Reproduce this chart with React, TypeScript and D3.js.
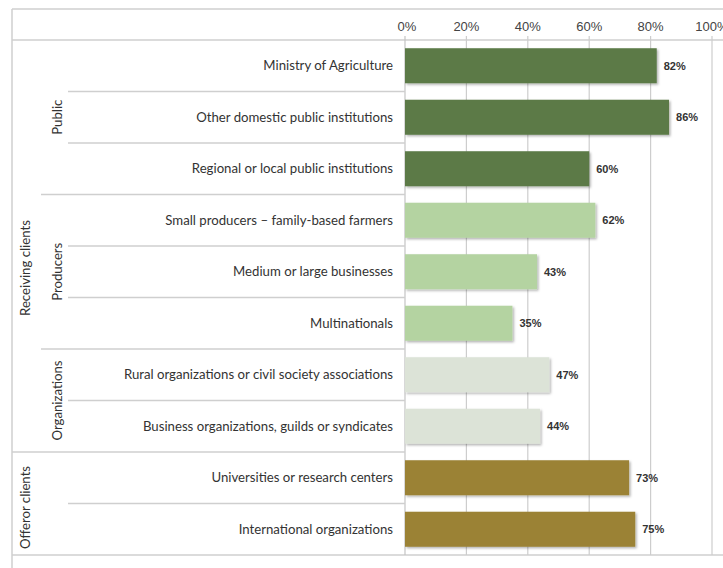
import React from "react";
import * as d3 from "d3";

const categories = [
  "Ministry of Agriculture",
  "Other domestic public institutions",
  "Regional or local public institutions",
  "Small producers – family-based farmers",
  "Medium or large businesses",
  "Multinationals",
  "Rural organizations or civil society associations",
  "Business organizations, guilds or syndicates",
  "Universities or research centers",
  "International organizations",
];
const values = [82, 86, 60, 62, 43, 35, 47, 44, 73, 75];
const subgroupOf = [
  "Public", "Public", "Public",
  "Producers", "Producers", "Producers",
  "Organizations", "Organizations",
  "Offeror", "Offeror",
];
const subgroups = ["Public", "Producers", "Organizations", "Offeror"];
const subgroupLabels = ["Public", "Producers", "Organizations", ""];
const topGroups = ["Receiving clients", "Offeror clients"];
const topGroupOf = [
  "Receiving clients", "Receiving clients", "Receiving clients",
  "Receiving clients", "Receiving clients", "Receiving clients",
  "Receiving clients", "Receiving clients",
  "Offeror clients", "Offeror clients",
];
const tickValues = [0, 20, 40, 60, 80, 100];

const W = 723;
const H = 568;
const boxLeft = 12;
const boxTop = 9;
const headerY = 40;
const bottomY = 555;
const plotLeft = 405;
const plotRight = 712;
const labelRight = 393;
const topLabelX = 25;
const subLabelX = 57;
const subLineX = 41;
const rowLineX = 68;

const colorScale = d3
  .scaleOrdinal<string, string>()
  .domain(subgroups)
  .range(["#5b7a47", "#b4d3a1", "#dce3d7", "#9b8236"]);

export default function App() {
  const x = d3.scaleLinear().domain([0, 100]).range([plotLeft, plotRight]);
  const yRow = d3
    .scaleBand<string>()
    .domain(categories)
    .range([headerY, bottomY])
    .paddingInner(0);
  const y = d3
    .scaleBand<string>()
    .domain(categories)
    .range([headerY, bottomY])
    .paddingInner(0.32)
    .paddingOuter(0.16);
  const step = yRow.step();

  const seps: { y: number; x0: number }[] = [];
  for (let i = 1; i < categories.length; i++) {
    const yy = yRow(categories[i])!;
    let x0 = rowLineX;
    if (topGroupOf[i] !== topGroupOf[i - 1]) x0 = boxLeft;
    else if (subgroupOf[i] !== subgroupOf[i - 1]) x0 = subLineX;
    seps.push({ y: yy, x0 });
  }

  const groupSpan = (keys: string[], k: string) => {
    const idx = keys.map((g, i) => (g === k ? i : -1)).filter((i) => i >= 0);
    const y0 = yRow(categories[idx[0]])!;
    const y1 = yRow(categories[idx[idx.length - 1]])! + step;
    return [y0, y1];
  };

  const lineColor = "#cfcfcf";
  const fontLabel = "Lato, 'Open Sans', sans-serif";
  const labelSize = 13.2;

  return (
    <svg width={W} height={H} style={{ position: "absolute", left: 0, top: 0, background: "#fff" }}>
      <defs>
        <filter id="sh" x="-5%" y="-20%" width="110%" height="160%">
          <feDropShadow dx="1.5" dy="1.5" stdDeviation="1" floodColor="#000" floodOpacity="0.3" />
        </filter>
      </defs>
      <rect x={0} y={0} width={W} height={H} fill="#fff" />
      <line x1={boxLeft} x2={W} y1={boxTop} y2={boxTop} stroke={lineColor} strokeWidth={1.5} />
      <line x1={boxLeft} x2={boxLeft} y1={boxTop} y2={H} stroke={lineColor} strokeWidth={1.5} />
      <line x1={boxLeft} x2={W} y1={headerY} y2={headerY} stroke={lineColor} strokeWidth={1.5} />
      <line x1={boxLeft} x2={W} y1={bottomY} y2={bottomY} stroke={lineColor} strokeWidth={1.5} />
      {tickValues.map((t) => (
        <g key={t}>
          <line
            x1={x(t)}
            x2={x(t)}
            y1={headerY - 4}
            y2={bottomY}
            stroke={t === 0 ? "#c4c4c4" : "#cdcdcd"}
            strokeWidth={1.2}
          />
          <text
            x={x(t) + (t === 0 ? 2 : 0)}
            y={31}
            textAnchor="middle"
            fontFamily="'Liberation Sans', Arial, sans-serif"
            fontSize={13}
            fill="#444"
          >
            {t}%
          </text>
        </g>
      ))}
      {seps.map((s, i) => (
        <line key={i} x1={s.x0} x2={plotLeft} y1={s.y} y2={s.y} stroke={lineColor} strokeWidth={1.5} />
      ))}
      {categories.map((c, i) => (
        <rect
          key={c}
          x={x(0)}
          y={y(c)!}
          width={x(values[i]) - x(0)}
          height={y.bandwidth()}
          fill={colorScale(subgroupOf[i])}
          filter="url(#sh)"
        />
      ))}
      {categories.map((c, i) => (
        <text
          key={c}
          x={x(values[i]) + 7}
          y={y(c)! + y.bandwidth() / 2 + 4}
          fontFamily="'Liberation Sans', Arial, sans-serif"
          fontSize={11}
          fontWeight="bold"
          fill="#333"
        >
          {values[i]}%
        </text>
      ))}
      {categories.map((c) => (
        <text
          key={c}
          x={labelRight}
          y={yRow(c)! + step / 2 + 4.5}
          textAnchor="end"
          fontFamily={fontLabel}
          fontSize={labelSize}
          fill="#333"
        >
          {c}
        </text>
      ))}
      {subgroups.map((g, i) => {
        if (!subgroupLabels[i]) return null;
        const [a, b] = groupSpan(subgroupOf, g);
        const cy = (a + b) / 2;
        return (
          <text
            key={g}
            transform={`translate(${subLabelX + 4.5},${cy}) rotate(-90)`}
            textAnchor="middle"
            fontFamily={fontLabel}
            fontSize={labelSize}
            fill="#333"
          >
            {subgroupLabels[i]}
          </text>
        );
      })}
      {topGroups.map((g, i) => {
        const [a, b] = groupSpan(topGroupOf, g);
        const cy = (a + b) / 2 + (i === 0 ? 22 : 4);
        return (
          <text
            key={g}
            transform={`translate(${topLabelX + 4.5},${cy}) rotate(-90)`}
            textAnchor="middle"
            fontFamily={fontLabel}
            fontSize={labelSize}
            fill="#333"
          >
            {g}
          </text>
        );
      })}
    </svg>
  );
}
